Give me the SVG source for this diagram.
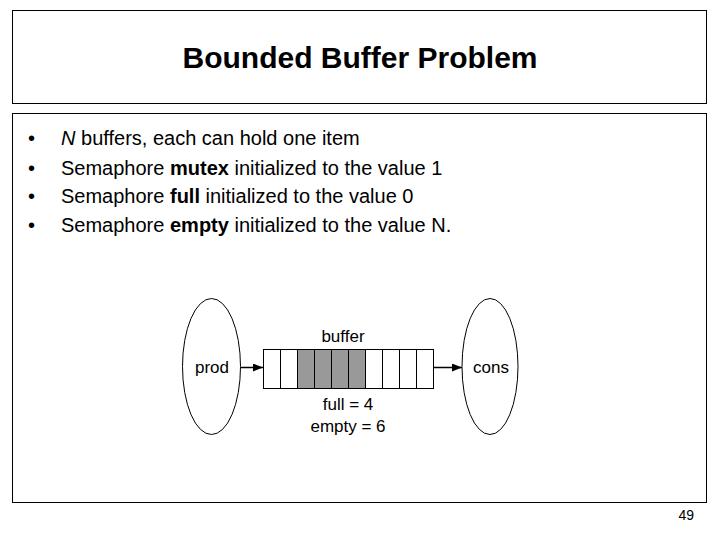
<svg xmlns="http://www.w3.org/2000/svg" width="720" height="540" viewBox="0 0 720 540">
<style>
text{font-family:"Liberation Sans",Arial,sans-serif;fill:#000}
.b{fill:none;stroke:#000;stroke-width:1}
.c{fill:#fff;stroke:#000;stroke-width:1}
.g{fill:#999;stroke:#000;stroke-width:1}
</style>
<defs><marker id="ah" markerWidth="10" markerHeight="8" refX="10" refY="4" orient="auto" markerUnits="userSpaceOnUse"><path d="M0,0L10,4L0,8z" fill="#000"/></marker></defs>
<rect width="720" height="540" fill="#fff"/>
<rect class="b" x="12.5" y="10.5" width="694" height="93"/>
<text x="360" y="68" font-size="30" font-weight="bold" text-anchor="middle">Bounded Buffer Problem</text>
<rect class="b" x="12.5" y="113.5" width="694" height="389"/>
<g font-size="20">
<text x="28" y="145">•</text><text x="61" y="145"><tspan font-style="italic">N</tspan> buffers, each can hold one item</text>
<text x="28" y="175">•</text><text x="61" y="175">Semaphore <tspan font-weight="bold">mutex</tspan> initialized to the value 1</text>
<text x="28" y="203">•</text><text x="61" y="203">Semaphore <tspan font-weight="bold">full</tspan> initialized to the value 0</text>
<text x="28" y="232">•</text><text x="61" y="232">Semaphore <tspan font-weight="bold">empty</tspan> initialized to the value N.</text>
</g>
<g id="prod"><ellipse class="b" cx="211.5" cy="366.5" rx="29" ry="68"/><text x="212" y="373" font-size="17" text-anchor="middle">prod</text></g>
<g id="cons"><ellipse class="b" cx="490" cy="366.5" rx="28" ry="68"/><text x="491" y="373" font-size="17" text-anchor="middle">cons</text></g>
<g id="buffer">
<rect class="c" x="263.5" y="349.5" width="17" height="39"/>
<rect class="c" x="280.5" y="349.5" width="17" height="39"/>
<rect class="g" x="297.5" y="349.5" width="17" height="39"/>
<rect class="g" x="314.5" y="349.5" width="17" height="39"/>
<rect class="g" x="331.5" y="349.5" width="17" height="39"/>
<rect class="g" x="348.5" y="349.5" width="17" height="39"/>
<rect class="c" x="365.5" y="349.5" width="17" height="39"/>
<rect class="c" x="382.5" y="349.5" width="17" height="39"/>
<rect class="c" x="399.5" y="349.5" width="17" height="39"/>
<rect class="c" x="416.5" y="349.5" width="17" height="39"/>
<text x="343" y="342" font-size="17" text-anchor="middle">buffer</text>
<text x="348" y="410" font-size="17" text-anchor="middle">full = 4</text>
<text x="348" y="432" font-size="17" text-anchor="middle">empty = 6</text>
</g>
<g id="connectors" stroke="#000" stroke-width="1.5">
<line x1="241" y1="367.5" x2="263" y2="367.5" marker-end="url(#ah)"/>
<line x1="434" y1="367.5" x2="462" y2="367.5" marker-end="url(#ah)"/>
</g>
<text x="694" y="520" font-size="14" text-anchor="end">49</text>
</svg>
